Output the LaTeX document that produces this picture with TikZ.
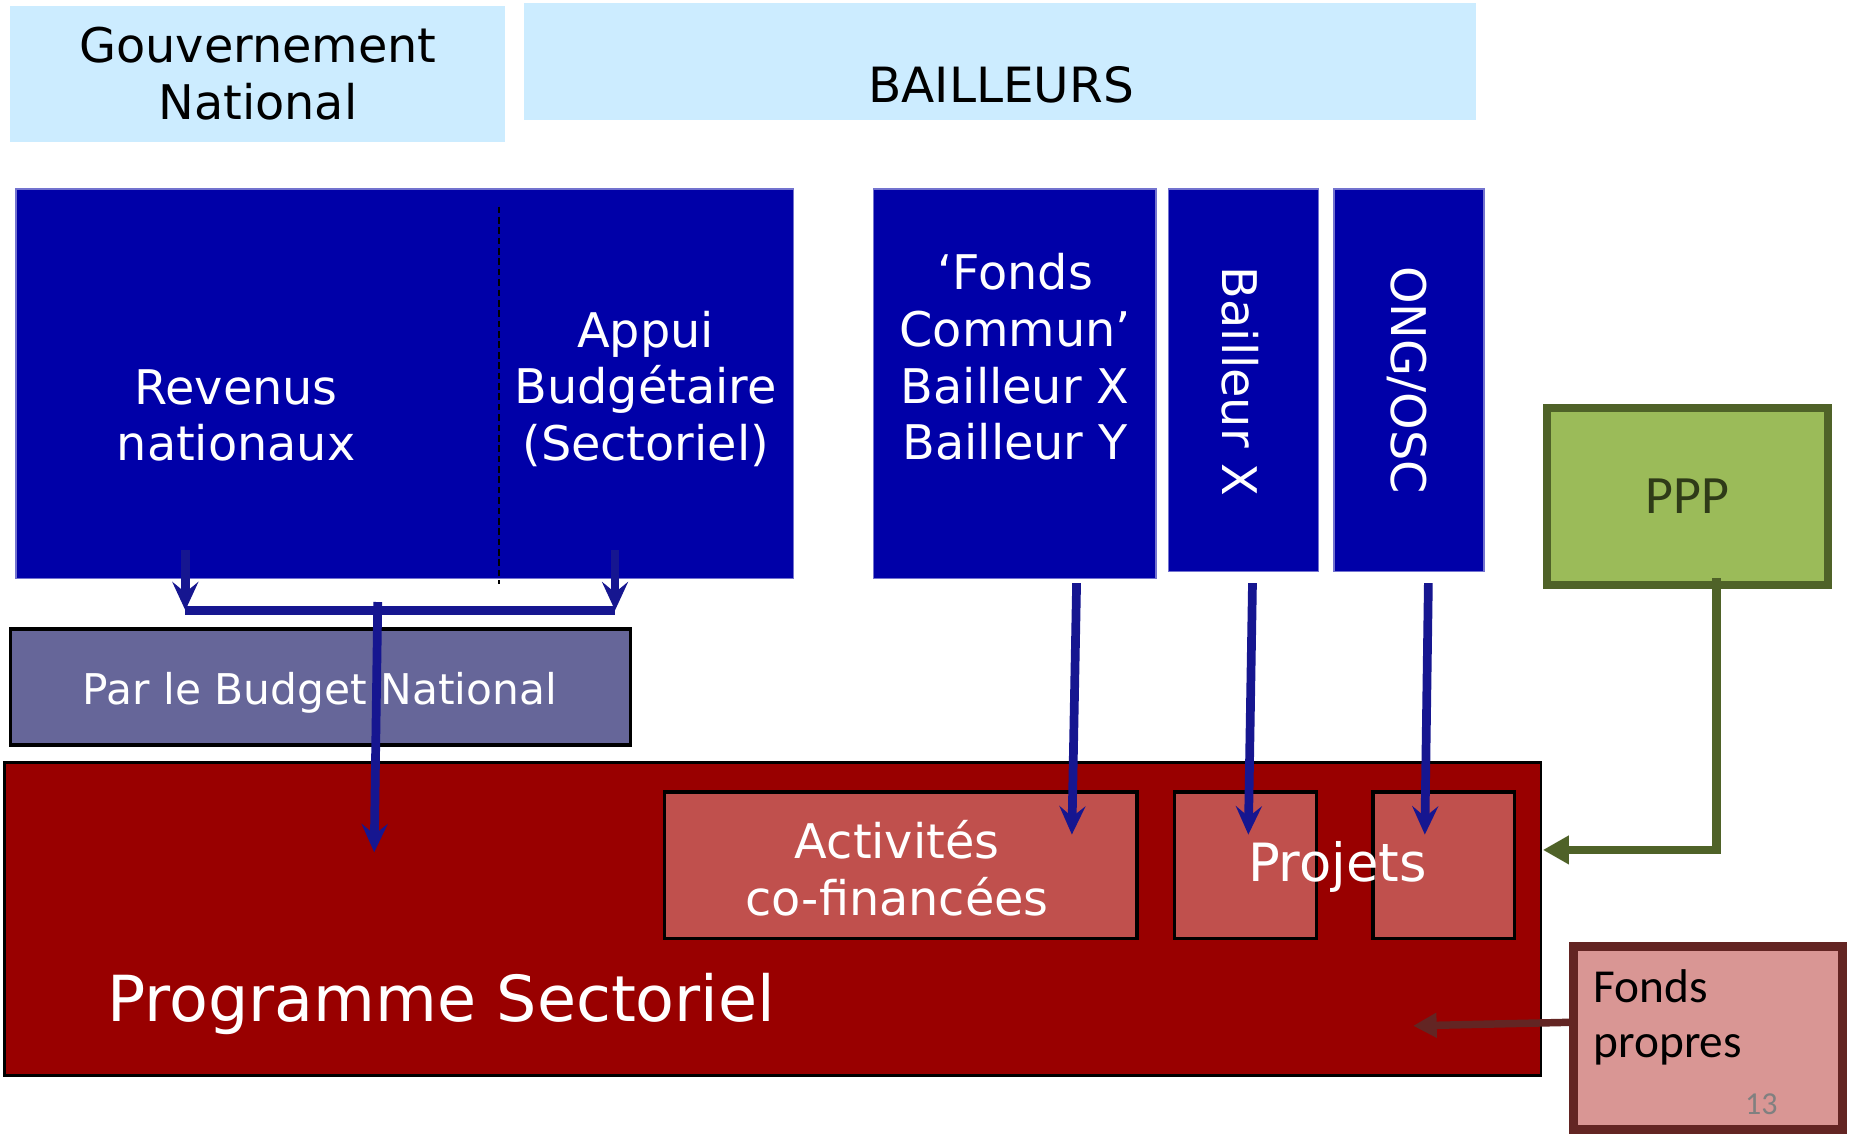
\documentclass[tikz,border=0pt]{standalone}
\usepackage{fontspec}
\setmainfont{DejaVu Sans}
\newfontfamily\calfont{Carlito}
\usetikzlibrary{positioning,arrows.meta}

\definecolor{headblue}{HTML}{CCECFF}
\definecolor{donorblue}{HTML}{0000A8}
\definecolor{flownavy}{HTML}{161690}
\definecolor{budgetgray}{HTML}{666699}
\definecolor{progred}{HTML}{990000}
\definecolor{actred}{HTML}{C0504D}
\definecolor{pppgreen}{HTML}{9BBB59}
\definecolor{pppdark}{HTML}{4F6228}
\definecolor{ownpink}{HTML}{D99694}
\definecolor{ownbrown}{HTML}{632523}

\begin{document}
\begin{tikzpicture}[x=0.01cm,y=-0.01cm]

	\tikzstyle{every node}=[font=\fontsize{11.5pt}{13.66pt}\selectfont, inner sep=0pt, outer sep=0pt]
	\tikzstyle{headbox}=[rectangle, fill=headblue]
	\tikzstyle{donorbox}=[rectangle, fill=donorblue, draw=donorblue!55!white, line width=0.4pt]
	\tikzstyle{wtext}=[text=white, align=center]
	\tikzstyle{redbox}=[rectangle, fill=actred, draw=black, line width=0.8pt]
	\tikzstyle{flow}=[draw=flownavy, line width=2.1pt]
	\tikzstyle{flowarrow}=[flow, -{Stealth[length=0.24cm,width=0.22cm,inset=0.09cm]}]

	\useasboundingbox (0,0) rectangle (1568,965);

	% headers
	\node[headbox, align=center, minimum width=4.19cm, minimum height=1.15cm] (gov) at (218.5,62.5) {Gouvernement\\National};
	\node[headbox, minimum width=8.06cm, minimum height=0.99cm] (bail) at (847,52.5) {};
	\node[anchor=base, font=\fontsize{11.7pt}{14pt}\selectfont] (bailtext) at (848,87) {BAILLEURS};

	% sources
	\node[donorbox, minimum width=6.58cm, minimum height=3.30cm] (natbox) at (343,325) {};
	\node[wtext] (revenus) at (200,352) {Revenus\\nationaux};
	\node[wtext] (appui) at (547,329.5) {Appui\\Budgétaire\\(Sectoriel)};
	\coordinate (divtop) at (423,175);
	\coordinate (divbot) at (423,495);
	\draw[black, line width=0.5pt, dash pattern=on 1.6pt off 0.9pt] (divtop) -- (divbot);

	\node[donorbox, minimum width=2.39cm, minimum height=3.30cm] (fcbox) at (859.5,325) {};
	\node[wtext] (fctext) at (860,302.5) {‘Fonds\\Commun’\\Bailleur X\\Bailleur Y};
	\node[donorbox, minimum width=1.27cm, minimum height=3.24cm] (bxbox) at (1053.5,322) {};
	\node[wtext, rotate=-90] (bxtext) at (1051,323) {Bailleur X};
	\node[donorbox, minimum width=1.27cm, minimum height=3.24cm] (ongbox) at (1193.5,322) {};
	\node[wtext, rotate=-90] (ongtext) at (1192,322) {ONG/OSC};

	\node[rectangle, fill=pppgreen, draw=pppdark, line width=2pt, minimum width=2.38cm, minimum height=1.50cm, text=pppdark!60!black, font=\calfont\fontsize{13pt}{15pt}\selectfont] (ppp) at (1429.5,420.5) {PPP};

	% budget and programme
	\node[rectangle, fill=budgetgray, draw=black, line width=0.9pt, minimum width=5.25cm, minimum height=0.98cm] (budget) at (271.5,582) {};
	\node[anchor=base, text=white, font=\fontsize{10.2pt}{12pt}\selectfont] (budgettext) at (271,597) {Par le Budget National};

	\node[rectangle, fill=progred, draw=black, line width=0.7pt, minimum width=13.01cm, minimum height=2.65cm] (prog) at (654.5,778.5) {};
	\node[anchor=base, text=white, font=\fontsize{15.3pt}{18pt}\selectfont] (progtext) at (374,865) {Programme Sectoriel};

	\node[redbox, minimum width=4.00cm, minimum height=1.24cm] (act) at (763,733) {};
	\node[wtext] (acttext) at (760,735.5) {Activités\\co-financées};
	\node[redbox, minimum width=1.20cm, minimum height=1.24cm] (proj1) at (1055,733) {};
	\node[redbox, minimum width=1.20cm, minimum height=1.24cm] (proj2) at (1223,733) {};
	\node[anchor=base, text=white, font=\fontsize{12.7pt}{15pt}\selectfont] (projtext) at (1133,747) {Projets};

	\node[rectangle, fill=ownpink, draw=ownbrown, line width=2.2pt, minimum width=2.28cm, minimum height=1.55cm] (fp) at (1447,879.5) {};
	\node[anchor=west, align=left, font=\calfont\fontsize{11.4pt}{13.4pt}\selectfont] (fptext) at (1350,862) {Fonds\\propres};
	\node[anchor=base, text=gray, font=\calfont\fontsize{7.7pt}{9pt}\selectfont] (pagenum) at (1492,944) {13};

	% flows
	\coordinate (revout) at (157,466);
	\coordinate (revjoin) at (157,517);
	\coordinate (apout) at (521,466);
	\coordinate (apjoin) at (521,517);
	\coordinate (natout) at (320,510);
	\coordinate (natin) at (317,722);
	\draw[flowarrow] (revout) -- (revjoin);
	\draw[flowarrow] (apout) -- (apjoin);
	\draw[flow] (revjoin) -- (apjoin);
	\draw[flowarrow] (natout) -- (natin);

	\coordinate (fcout) at (912,494);
	\coordinate (fcin) at (908,707);
	\coordinate (bxout) at (1061,494);
	\coordinate (bxin) at (1057.5,707);
	\coordinate (ongout) at (1210,494);
	\coordinate (ongin) at (1207,707);
	\draw[flowarrow] (fcout) -- (fcin);
	\draw[flowarrow] (bxout) -- (bxin);
	\draw[flowarrow] (ongout) -- (ongin);

	\coordinate (pppout) at (1454,490);
	\coordinate (pppin) at (1307,720);
	\draw[draw=pppdark, line width=2pt, -{Triangle[length=0.22cm,width=0.23cm]}] (pppout) |- (pppin);

	\coordinate (fpout) at (1331,866);
	\coordinate (fpin) at (1197,869);
	\draw[draw=ownbrown, line width=1.8pt, -{Triangle[length=0.2cm,width=0.2cm]}] (fpout) -- (fpin);

\end{tikzpicture}
\end{document}
